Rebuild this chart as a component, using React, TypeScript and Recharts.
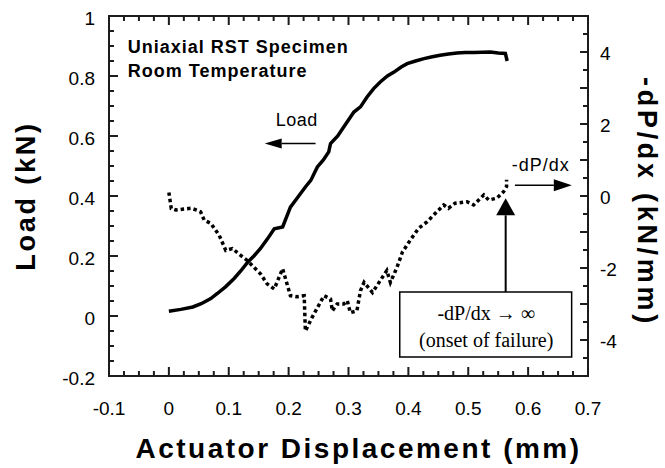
import { LineChart, Line, XAxis, YAxis, ReferenceLine, ReferenceDot, ReferenceArea } from "recharts";

// load curve (actuator displacement mm -> load kN)
const loadX = [0, 0.02, 0.04, 0.054, 0.07, 0.081, 0.095, 0.109, 0.12, 0.131, 0.142, 0.153, 0.165, 0.176, 0.19, 0.203, 0.215, 0.228, 0.237, 0.248, 0.258, 0.267, 0.27, 0.282, 0.292, 0.309, 0.32, 0.331, 0.342, 0.353, 0.365, 0.376, 0.388, 0.398, 0.412, 0.426, 0.44, 0.453, 0.467, 0.481, 0.495, 0.509, 0.523, 0.537, 0.55, 0.562, 0.565];
const loadY = [0.016, 0.022, 0.03, 0.041, 0.058, 0.075, 0.098, 0.125, 0.15, 0.178, 0.2, 0.225, 0.258, 0.291, 0.297, 0.363, 0.395, 0.43, 0.452, 0.497, 0.52, 0.547, 0.575, 0.6, 0.63, 0.68, 0.697, 0.73, 0.758, 0.78, 0.8, 0.813, 0.83, 0.841, 0.85, 0.858, 0.864, 0.869, 0.873, 0.877, 0.878, 0.878, 0.879, 0.88, 0.877, 0.875, 0.85];

// -dP/dx curve (kN/mm), right axis
const slopeX = [0, 0.004, 0.012, 0.025, 0.037, 0.048, 0.053, 0.059, 0.07, 0.084, 0.095, 0.106, 0.12, 0.131, 0.142, 0.153, 0.164, 0.176, 0.19, 0.203, 0.214, 0.226, 0.228, 0.239, 0.259, 0.27, 0.273, 0.281, 0.292, 0.298, 0.303, 0.314, 0.32, 0.326, 0.34, 0.353, 0.364, 0.37, 0.381, 0.39, 0.403, 0.417, 0.431, 0.445, 0.459, 0.467, 0.478, 0.498, 0.509, 0.526, 0.534, 0.548, 0.559, 0.564, 0.564];
const slopeY = [0.1, -0.35, -0.39, -0.36, -0.34, -0.4, -0.44, -0.67, -0.76, -1.09, -1.51, -1.46, -1.65, -1.79, -1.98, -2.16, -2.44, -2.58, -2.02, -2.77, -2.8, -2.77, -3.75, -3.38, -2.77, -2.86, -3.19, -3.0, -3.0, -2.91, -3.24, -3.19, -2.63, -2.4, -2.68, -2.35, -2.07, -2.4, -1.98, -1.56, -1.23, -0.9, -0.72, -0.48, -0.25, -0.34, -0.2, -0.16, -0.25, 0.03, -0.11, -0.06, 0.12, 0.26, 0.45];

const xLabels = [-0.1, 0, 0.1, 0.2, 0.3, 0.4, 0.5, 0.6, 0.7];
const leftLabels = [-0.2, 0, 0.2, 0.4, 0.6, 0.8, 1];
const rightLabels = [-4, -2, 0, 2, 4];

const steps = (from: number, to: number, step: number) => {
  const out: number[] = [];
  for (let i = 0; from + i * step <= to + 1e-9; i++) out.push(Math.round((from + i * step) * 1000) / 1000);
  return out;
};
const xTicks = steps(-0.1, 0.7, 0.025);
const leftTicks = steps(-0.2, 1, 0.05);
const rightTicks = steps(-5, 5, 0.5);

const loadData = loadX.map((x, i) => ({ x, load: loadY[i] }));
const slopeData = slopeX.map((x, i) => ({ x, slope: slopeY[i] }));

const W = 665, H = 468;
const MARGIN = { top: 16, right: 17, bottom: 32, left: 49 };
const INK = "#1c1c1c";

const FONT = "'Liberation Sans', Arial, Helvetica, sans-serif";
const isIn = (v: number, arr: number[]) => arr.some(a => Math.abs(a - v) < 1e-6);
const fmt = (v: number) => String(Math.round(v * 10) / 10);

// axis tick labels only; the inward tick marks are drawn by reference lines below
const XLabel = (p: any) =>
  isIn(p.payload.value, xLabels) ? (
    <text x={p.x} y={p.y + 39} textAnchor="middle" fontSize={19} fontFamily={FONT} fill="#000">{fmt(p.payload.value)}</text>
  ) : <g />;
const LeftLabel = (p: any) =>
  isIn(p.payload.value, leftLabels) ? (
    <text x={p.x - 14} y={p.y + 9} textAnchor="end" fontSize={19} fontFamily={FONT} fill="#000">{fmt(p.payload.value)}</text>
  ) : <g />;
const RightLabel = (p: any) =>
  isIn(p.payload.value, rightLabels) ? (
    <text x={p.x + 12} y={p.y + 8} textAnchor="start" fontSize={19} fontFamily={FONT} fill="#000">{fmt(p.payload.value)}</text>
  ) : <g />;

// short inward marks at both ends of a vertical reference line
const XMark = (p: any) => {
  const len = p.major ? 9 : 5;
  const yb = Math.max(p.y1, p.y2), yt = Math.min(p.y1, p.y2);
  return <path d={`M${p.x1},${yb}L${p.x1},${yb - len}M${p.x1},${yt}L${p.x1},${yt + len}`} stroke={INK} strokeWidth={2} fill="none" />;
};
const LeftMark = (p: any) => {
  const xl = Math.min(p.x1, p.x2);
  return <path d={`M${xl},${p.y1}L${xl + (p.major ? 9 : 5)},${p.y1}`} stroke={INK} strokeWidth={2} fill="none" />;
};
const RightMark = (p: any) => {
  const xr = Math.max(p.x1, p.x2);
  return <path d={`M${xr},${p.y1}L${xr - (p.major ? 8 : 5)},${p.y1}`} stroke={INK} strokeWidth={2} fill="none" />;
};

const Arrow = (p: any) => {
  const { x1, y1, x2, y2, head, half, sw } = p;
  const dx = x2 - x1, dy = y2 - y1;
  const L = Math.hypot(dx, dy) || 1;
  const ux = dx / L, uy = dy / L;
  const bx = x2 - ux * head, by = y2 - uy * head;
  const pts = `${x2},${y2} ${bx - uy * half},${by + ux * half} ${bx + uy * half},${by - ux * half}`;
  return (
    <g>
      <line x1={x1} y1={y1} x2={bx} y2={by} stroke="#000" strokeWidth={sw} />
      <polygon points={pts} fill="#000" />
    </g>
  );
};

const Txt = (p: any) => (
  <text x={p.cx} y={p.cy} textAnchor={p.anchor || "start"} fontSize={p.size} fontWeight={p.bold ? "bold" : "normal"}
    fontFamily={p.serif ? "'Liberation Serif', 'Times New Roman', serif" : FONT} letterSpacing={p.ls || 0} fill="#000">
    {p.children}
  </text>
);

const titleStyle = { fontFamily: FONT, fontWeight: "bold" as const, fill: "#000" };

export default function App() {
  return (
    <div style={{ position: "absolute", left: 0, top: 0, width: W, height: H, background: "#fff" }}>
      <LineChart width={W} height={H} margin={MARGIN}>
        <XAxis dataKey="x" type="number" domain={[-0.1, 0.7]} ticks={xTicks} interval={0}
          stroke={INK} axisLine={{ stroke: INK, strokeWidth: 2 }} tickLine={false} tickSize={0} tickMargin={0} height={60}
          tick={(p: any) => <XLabel {...p} />}
          label={(p: any) => {
            const vb = p.viewBox || { x: 109, y: 376, width: 479, height: 60 };
            const cx = vb.x + vb.width / 2 + 10, by = vb.y + 82;
            return <text x={cx} y={by} textAnchor="middle" fontSize={28} letterSpacing={2.5} {...titleStyle}>Actuator Displacement (mm)</text>;
          }} />
        <YAxis yAxisId="left" type="number" domain={[-0.2, 1]} ticks={leftTicks} interval={0} width={60}
          stroke={INK} axisLine={{ stroke: INK, strokeWidth: 2 }} tickLine={false} tickSize={0} tickMargin={0}
          tick={(p: any) => <LeftLabel {...p} />}
          label={(p: any) => {
            const vb = p.viewBox || { x: 49, y: 16, width: 60, height: 360 };
            const tx = vb.x - 14, ty = vb.y + vb.height / 2;
            return <text x={tx} y={ty} transform={`rotate(-90 ${tx} ${ty})`} textAnchor="middle" fontSize={27} letterSpacing={2.8} {...titleStyle}>Load (kN)</text>;
          }} />
        <YAxis yAxisId="right" orientation="right" type="number" domain={[-5, 5]} ticks={rightTicks} interval={0} width={60}
          stroke={INK} axisLine={{ stroke: INK, strokeWidth: 2 }} tickLine={false} tickSize={0} tickMargin={0}
          tick={(p: any) => <RightLabel {...p} />}
          label={(p: any) => {
            const vb = p.viewBox || { x: 588, y: 16, width: 60, height: 360 };
            const tx = vb.x + 50, ty = vb.y + vb.height / 2 + 6;
            return <text x={tx} y={ty} transform={`rotate(90 ${tx} ${ty})`} textAnchor="middle" fontSize={27} letterSpacing={3.7} {...titleStyle}>-dP/dx (kN/mm)</text>;
          }} />

        {/* plot frame */}
        <ReferenceArea yAxisId="left" x1={-0.1} x2={0.7} y1={-0.2} y2={1} fill="none" stroke={INK} strokeWidth={2} />
        <ReferenceLine yAxisId="left" x={-0.1} stroke={INK} strokeWidth={2} ifOverflow="visible" />
        <ReferenceLine yAxisId="left" x={0.7} stroke={INK} strokeWidth={2} ifOverflow="visible" />
        <ReferenceLine yAxisId="left" y={-0.2} stroke={INK} strokeWidth={2} ifOverflow="visible" />
        <ReferenceLine yAxisId="left" y={1} stroke={INK} strokeWidth={2} ifOverflow="visible" />

        {/* inward tick marks */}
        {xTicks.map(v => (
          <ReferenceLine key={`xt${v}`} yAxisId="left" x={v} ifOverflow="visible" shape={(p: any) => <XMark {...p} major={isIn(v, xLabels)} />} />
        ))}
        {leftTicks.map(v => (
          <ReferenceLine key={`lt${v}`} yAxisId="left" y={v} ifOverflow="visible" shape={(p: any) => <LeftMark {...p} major={isIn(v, leftLabels)} />} />
        ))}
        {rightTicks.map(v => (
          <ReferenceLine key={`rt${v}`} yAxisId="right" y={v} ifOverflow="visible" shape={(p: any) => <RightMark {...p} major={Number.isInteger(v)} />} />
        ))}

        <ReferenceArea yAxisId="right" x1={0.3856} x2={0.6727} y1={-4.47} y2={-2.667} fill="#fff" fillOpacity={1} stroke="#000" strokeWidth={1.5} />

        <Line yAxisId="left" data={loadData} dataKey="load" type="linear" stroke="#000" strokeWidth={3.5} dot={false} isAnimationActive={false} />
        <Line yAxisId="right" data={slopeData} dataKey="slope" type="linear" stroke="#000" strokeWidth={3.5} strokeDasharray="3.5 3" dot={false} isAnimationActive={false} />

        <ReferenceLine yAxisId="left" segment={[{ x: 0.245, y: 0.575 }, { x: 0.16, y: 0.575 }]}
          shape={(p: any) => <Arrow {...p} head={17} half={5} sw={1.5} />} />
        <ReferenceLine yAxisId="right" segment={[{ x: 0.578, y: 0.297 }, { x: 0.673, y: 0.297 }]}
          shape={(p: any) => <Arrow {...p} head={18} half={6} sw={1.5} />} />
        <ReferenceLine yAxisId="right" segment={[{ x: 0.5625, y: -2.667 }, { x: 0.5625, y: -0.064 }]}
          shape={(p: any) => <Arrow {...p} head={17} half={9.5} sw={2} />} />

        <ReferenceDot yAxisId="left" x={-0.0687} y={0.876} r={0} shape={(p: any) => <Txt {...p} size={18} bold ls={1}>Uniaxial RST Specimen</Txt>} />
        <ReferenceDot yAxisId="left" x={-0.0687} y={0.796} r={0} shape={(p: any) => <Txt {...p} size={18} bold ls={1}>Room Temperature</Txt>} />
        <ReferenceDot yAxisId="left" x={0.1786} y={0.632} r={0} shape={(p: any) => <Txt {...p} size={18} ls={0.5}>Load</Txt>} />
        <ReferenceDot yAxisId="right" x={0.5725} y={0.686} r={0} shape={(p: any) => <Txt {...p} size={18} ls={1}>-dP/dx</Txt>} />
        <ReferenceDot yAxisId="right" x={0.53} y={-3.45} r={0} shape={(p: any) => <Txt {...p} size={20} serif anchor="middle">-dP/dx → ∞</Txt>} />
        <ReferenceDot yAxisId="right" x={0.53} y={-4.2} r={0} shape={(p: any) => <Txt {...p} size={20} serif anchor="middle">(onset of failure)</Txt>} />
      </LineChart>
    </div>
  );
}
